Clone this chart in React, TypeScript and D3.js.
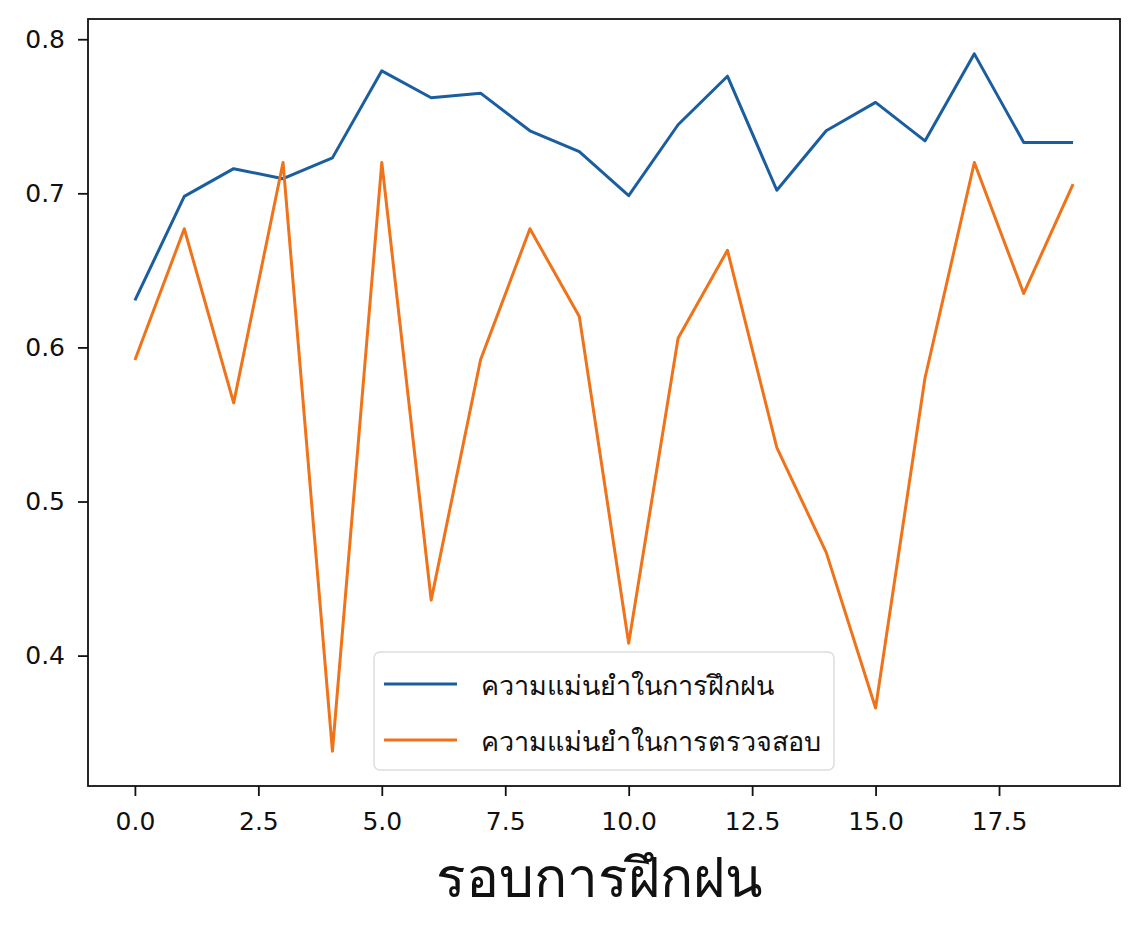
import React, { useEffect, useRef } from "react";
import * as d3 from "d3";

const epochs = d3.range(0, 20);
const trainAcc = [0.6305, 0.698, 0.716, 0.7095, 0.723, 0.7795, 0.762, 0.765, 0.7406, 0.727, 0.6985, 0.7445, 0.776, 0.702, 0.7406, 0.759, 0.734, 0.7905, 0.733, 0.733];
const valAcc = [0.5918, 0.677, 0.564, 0.72, 0.338, 0.72, 0.436, 0.592, 0.677, 0.62, 0.408, 0.606, 0.663, 0.535, 0.467, 0.366, 0.58, 0.72, 0.635, 0.706];
const xTicks = [0, 2.5, 5, 7.5, 10, 12.5, 15, 17.5];
const yTicks = [0.4, 0.5, 0.6, 0.7, 0.8];
const seriesNames = ["ความแม่นยำในการฝึกฝน", "ความแม่นยำในการตรวจสอบ"];
const xLabel = "รอบการฝึกฝน";
const colors = ["#1a5e9f", "#f07219"];

const W = 1138, H = 928;
const L = 88, R = 1120, T = 19, B = 786;

export default function App() {
  const ref = useRef<SVGSVGElement>(null);
  useEffect(() => {
    const svg = d3.select(ref.current);
    svg.selectAll("*").remove();
    const all = trainAcc.concat(valAcc);
    const ymin = d3.min(all)!, ymax = d3.max(all)!;
    const ym = (ymax - ymin) * 0.05;
    const x = d3.scaleLinear().domain([-0.95, 19.95]).range([L, R]);
    const y = d3.scaleLinear().domain([ymin - ym, ymax + ym]).range([B, T]);
    const font = "'DejaVu Sans', sans-serif";

    svg.append("rect").attr("width", W).attr("height", H).attr("fill", "#fff");

    const line = d3.line<number>().x((_, i) => x(epochs[i])).y(d => y(d));
    [trainAcc, valAcc].forEach((s, i) => {
      svg.append("path").attr("d", line(s)!).attr("fill", "none")
        .attr("stroke", colors[i]).attr("stroke-width", 3).attr("stroke-linejoin", "round");
    });

    svg.append("rect").attr("x", L).attr("y", T).attr("width", R - L).attr("height", B - T)
      .attr("fill", "none").attr("stroke", "#111").attr("stroke-width", 1.8);

    const gx = svg.append("g").attr("transform", `translate(0,${B})`)
      .call(d3.axisBottom(x).tickValues(xTicks).tickFormat(d3.format(".1f")).tickSize(10).tickPadding(16));
    const gy = svg.append("g").attr("transform", `translate(${L},0)`)
      .call(d3.axisLeft(y).tickValues(yTicks).tickFormat(d3.format(".1f")).tickSize(10).tickPadding(13));
    [gx, gy].forEach(g => {
      g.select(".domain").remove();
      g.selectAll("line").attr("stroke", "#111").attr("stroke-width", 1.8);
      g.selectAll("text").attr("font-family", font).attr("font-size", 25).attr("fill", "#111");
    });

    svg.append("text").attr("x", (L + R) / 2 - 5).attr("y", 897).attr("text-anchor", "middle")
      .attr("font-size", 55).attr("font-family", "'Noto Sans', sans-serif").attr("fill", "#111").text(xLabel);

    const lg = svg.append("g");
    lg.append("rect").attr("x", 374).attr("y", 652).attr("width", 460).attr("height", 118)
      .attr("rx", 6).attr("fill", "#fff").attr("stroke", "#ddd").attr("stroke-width", 1.5);
    seriesNames.forEach((n, i) => {
      const yy = 684 + i * 56;
      lg.append("line").attr("x1", 384).attr("x2", 457).attr("y1", yy).attr("y2", yy)
        .attr("stroke", colors[i]).attr("stroke-width", 3);
      lg.append("text").attr("x", 481).attr("y", yy + 11).attr("font-size", 27)
        .attr("font-family", "'Noto Sans', sans-serif").attr("fill", "#111").text(n);
    });
  }, []);
  return <svg ref={ref} width={W} height={H} style={{ position: "absolute", left: 0, top: 0 }} />;
}
